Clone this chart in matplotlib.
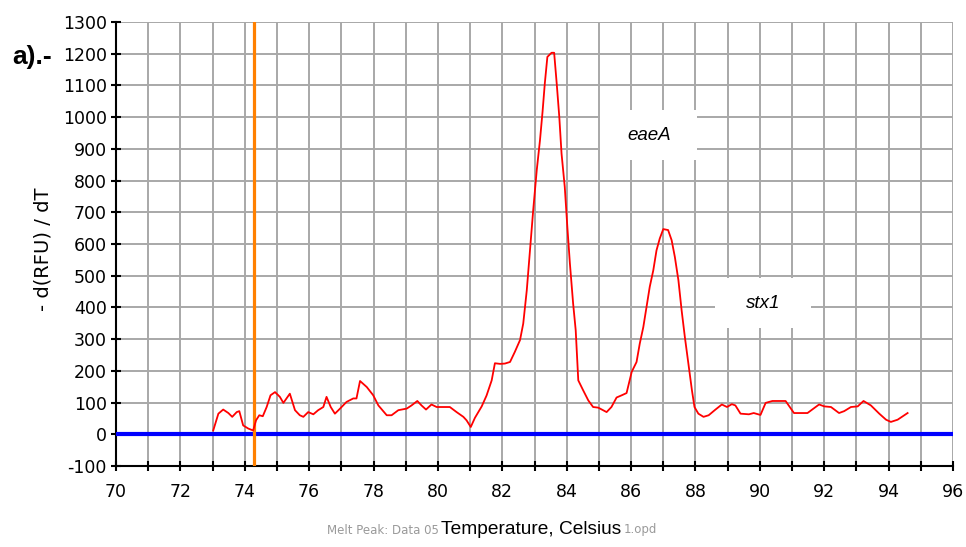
import matplotlib
matplotlib.use("Agg")
import matplotlib.pyplot as plt
from matplotlib.ticker import MultipleLocator
from matplotlib.patches import Rectangle

plt.rcParams["axes.unicode_minus"] = False

# ---- data ----
temperature = [
    73.02, 73.18, 73.33, 73.49, 73.61, 73.75, 73.83, 73.95, 74.11, 74.26,
    74.35, 74.45, 74.56, 74.68, 74.80, 74.94, 75.09, 75.20, 75.40, 75.56,
    75.71, 75.82, 75.97, 76.13, 76.28, 76.44, 76.54, 76.67, 76.80, 76.96,
    77.16, 77.37, 77.47, 77.58, 77.79, 77.99, 78.15, 78.41, 78.56, 78.77,
    79.03, 79.18, 79.36, 79.49, 79.63, 79.80, 79.96, 80.37, 80.58, 80.79,
    80.89, 81.02, 81.15, 81.36, 81.51, 81.67, 81.77, 81.93, 82.08, 82.24,
    82.39, 82.55, 82.65, 82.76, 82.86, 82.96, 83.07, 83.17, 83.25, 83.32,
    83.40, 83.53, 83.61, 83.69, 83.77, 83.84, 83.94, 84.02, 84.10, 84.20,
    84.28, 84.36, 84.51, 84.67, 84.82, 84.98, 85.13, 85.24, 85.39, 85.55,
    85.71, 85.86, 86.02, 86.17, 86.27, 86.38, 86.48, 86.58, 86.69, 86.79,
    86.89, 87.00, 87.15, 87.26, 87.36, 87.47, 87.57, 87.67, 87.78, 87.89,
    87.97, 88.09, 88.25, 88.41, 88.61, 88.82, 88.98, 89.13, 89.24, 89.40,
    89.66, 89.81, 90.02, 90.18, 90.39, 90.80, 91.06, 91.48, 91.84, 92.00,
    92.21, 92.46, 92.62, 92.83, 93.04, 93.22, 93.45, 93.71, 93.92, 94.07,
    94.28, 94.59,
]
melt_peak = [
    12, 65, 78, 67, 55, 70, 73, 28, 18, 12,
    44, 60, 57, 86, 123, 133, 118, 99, 128, 76,
    60, 55, 70, 63, 76, 86, 118, 86, 65, 81,
    102, 113, 113, 168, 149, 123, 91, 60, 60, 76,
    81, 91, 105, 91, 78, 94, 86, 86, 70, 55,
    44, 23, 52, 88, 122, 170, 224, 222, 223, 228,
    260, 297, 349, 454, 580, 707, 833, 927, 1017, 1106,
    1190, 1203, 1203, 1106, 1001, 885, 780, 654, 538, 412,
    328, 170, 139, 107, 86, 84, 76, 70, 86, 116,
    123, 130, 197, 228, 286, 338, 402, 465, 517, 580,
    617, 647, 644, 612, 559, 486, 391, 307, 223, 139,
    86, 65, 55, 60, 77, 94, 86, 95, 91, 65,
    63, 67, 61, 99, 105, 105, 67, 67, 94, 88,
    86, 67, 73, 86, 88, 105, 91, 65, 46, 39,
    46, 67,
]
threshold = 0
marker_temperature = 74.28
x_range = (70, 96)
y_range = (-100, 1300)
peak_labels = ["eaeA", "stx1"]
peak_label_pos = [(86.55, 943), (90.10, 413)]
label_box_size = (3.0, 158)  # width in deg C, height in RFU units

# ---- figure ----
fig = plt.figure(figsize=(9.66, 5.47), dpi=100)
ax = fig.add_axes([116 / 966, 1 - 466 / 547, (953 - 116) / 966, (466 - 22) / 547])

ax.set_xlim(*x_range)
ax.set_ylim(*y_range)
ax.xaxis.set_major_locator(MultipleLocator(2))
ax.xaxis.set_minor_locator(MultipleLocator(1))
ax.yaxis.set_major_locator(MultipleLocator(100))

ax.grid(True, which="both", color="#a8a8a8", linewidth=1.4)
ax.set_axisbelow(True)

for s in ("top", "right"):
    ax.spines[s].set_visible(False)
for s in ("left", "bottom"):
    ax.spines[s].set_color("black")
    ax.spines[s].set_linewidth(1.5)

ax.tick_params(which="both", direction="inout", length=7, width=1.5, color="black",
               labelsize=12.5, pad=3)
ax.tick_params(axis="x", pad=9)
for lab in ax.get_xticklabels() + ax.get_yticklabels():
    lab.set_family("DejaVu Sans")

ax.axhline(threshold, color="#0000ff", linewidth=3, zorder=3)
ax.axvline(marker_temperature, color="#ff8000", linewidth=2.3, zorder=4)
ax.plot(temperature, melt_peak, color="#ff0000", linewidth=1.3, zorder=5)

bw, bh = label_box_size
for text, (tx, ty) in zip(peak_labels, peak_label_pos):
    ax.add_patch(Rectangle((tx - bw / 2, ty - bh / 2), bw, bh, facecolor="white",
                           edgecolor="none", zorder=2.5))
    ax.text(tx, ty, text, fontsize=13.5, style="italic", family="Liberation Sans",
            ha="center", va="center", zorder=6)

fig.text(43 / 966, 1 - 249 / 547, "- d(RFU) / dT", rotation=90, fontsize=14,
         family="DejaVu Sans", ha="center", va="center")
fig.text(12 / 966, 1 - 57 / 547, "a).-", fontsize=19, fontweight="bold",
         family="Liberation Sans", ha="left", va="center")

# faint file caption partly hidden behind the axis title
fig.text(327 / 966, 1 - 530 / 547, "Melt Peak: Data 05", fontsize=8.5,
         color="#9a9a9a", family="DejaVu Sans", ha="left", va="center")
fig.text(657 / 966, 1 - 530 / 547, "1.opd", fontsize=8.5,
         color="#9a9a9a", family="DejaVu Sans", ha="right", va="center")
fig.text(531 / 966, 1 - 530 / 547, "Temperature, Celsius", fontsize=13.8,
         family="Liberation Sans", ha="center", va="center")

fig.savefig("out.png", dpi=100)
